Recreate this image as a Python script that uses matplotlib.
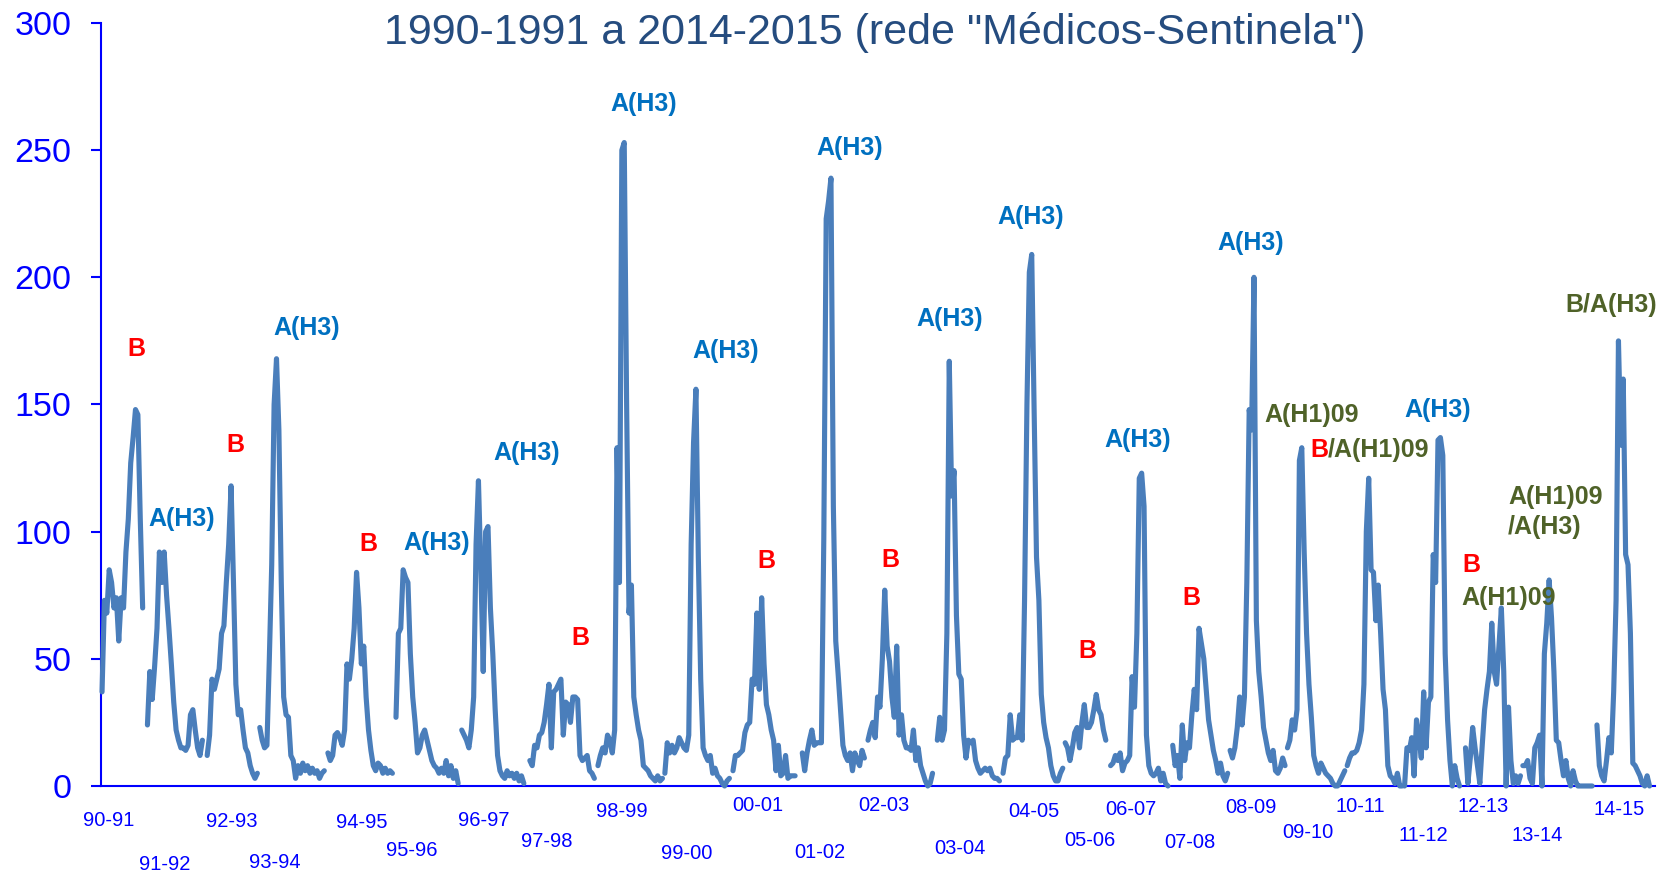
import matplotlib
matplotlib.use('Agg')
import matplotlib.pyplot as plt

plt.rcParams['font.family'] = ['Liberation Sans', 'DejaVu Sans']

# Weekly incidence per season, one value every 2 weeks
s9091 = [37, 73, 68, 85, 80, 70, 74, 57, 74, 70, 92, 105, 127, 137, 148, 146, 105, 70]
s9192 = [24, 45, 34, 47, 62, 92, 80, 92, 75, 62, 48, 33, 22, 18, 15, 15, 14, 16, 28, 30, 22, 15, 12, 18]
s9293 = [12, 20, 42, 38, 42, 46, 60, 63, 80, 95, 118, 80, 40, 28, 30, 22, 15, 13, 8, 5, 3, 5]
s9394 = [23, 18, 15, 16, 50, 87, 150, 168, 140, 80, 35, 28, 27, 12, 10, 3, 8, 5, 9, 6, 8, 5, 7, 5, 6, 3, 5, 6]
s9495 = [13, 10, 12, 20, 21, 19, 16, 22, 48, 42, 50, 62, 84, 70, 48, 55, 35, 22, 14, 8, 6, 9, 8, 5, 7, 5, 6, 5]
s9596 = [27, 60, 62, 85, 82, 80, 52, 35, 25, 13, 15, 20, 22, 18, 14, 10, 8, 7, 5, 7, 5, 10, 4, 8, 3, 6, 1]
s9697 = [22, 20, 18, 15, 22, 35, 95, 120, 85, 45, 100, 102, 70, 52, 30, 12, 6, 4, 3, 6, 4, 5, 3, 5, 2, 4, 1]
s9798 = [10, 8, 16, 15, 20, 21, 25, 32, 40, 15, 37, 38, 40, 42, 20, 33, 32, 25, 35, 35, 34, 12, 10, 11, 12, 6, 5, 3]
s9899 = [8, 12, 15, 13, 20, 18, 13, 22, 133, 80, 250, 253, 150, 68, 79, 35, 28, 22, 18, 8, 7, 6, 4, 3, 2, 4, 2, 3]
s9900 = [5, 17, 13, 16, 13, 15, 19, 17, 15, 14, 20, 95, 135, 156, 90, 42, 15, 12, 10, 12, 5, 7, 4, 3, 1, 0, 2, 3]
s0001 = [6, 12, 12, 13, 14, 21, 24, 25, 42, 40, 68, 38, 74, 48, 32, 28, 22, 18, 6, 16, 4, 5, 12, 3, 4, 4, 4]
s0102 = [13, 6, 13, 18, 22, 16, 17, 17, 17, 97, 223, 230, 239, 110, 57, 44, 30, 16, 12, 10, 13, 6, 13, 10, 8, 14, 11]
s0203 = [18, 22, 25, 19, 35, 31, 50, 77, 55, 49, 35, 27, 55, 20, 28, 18, 15, 15, 14, 22, 10, 15, 8, 5, 2, 0, 1, 5]
s0304 = [18, 27, 18, 22, 60, 167, 114, 124, 67, 44, 42, 20, 11, 18, 17, 18, 10, 7, 5, 6, 7, 6, 7, 4, 3, 3, 2]
s0405 = [5, 11, 12, 28, 18, 19, 19, 28, 18, 73, 150, 202, 209, 148, 90, 73, 36, 25, 19, 15, 8, 4, 2, 2, 5, 7]
s0506 = [17, 15, 10, 15, 21, 23, 15, 25, 32, 23, 23, 25, 30, 36, 30, 28, 22, 18]
s0607 = [8, 9, 12, 10, 13, 6, 9, 10, 12, 43, 31, 60, 121, 123, 110, 20, 8, 5, 4, 5, 7, 2, 5, 1, 0]
s0708 = [16, 8, 12, 3, 24, 10, 17, 15, 28, 38, 30, 62, 56, 50, 38, 26, 20, 14, 10, 5, 9, 4, 2, 5]
s0809 = [14, 11, 15, 23, 35, 24, 35, 80, 148, 140, 200, 65, 45, 35, 23, 18, 13, 10, 14, 6, 5, 7, 11, 8]
s0910 = [15, 18, 26, 22, 30, 128, 133, 92, 60, 40, 27, 12, 8, 5, 9, 7, 5, 4, 3, 1, 0, 0, 2, 4, 6]
s1011 = [8, 11, 13, 13, 14, 17, 22, 40, 100, 121, 85, 84, 65, 79, 60, 38, 30, 8, 4, 3, 1, 5, 0, 0]
s1112 = [0, 15, 14, 19, 4, 26, 20, 11, 37, 15, 33, 35, 91, 80, 136, 137, 130, 52, 26, 10, 0, 8, 3, 0]
s1213 = [15, 1, 11, 23, 15, 8, 1, 16, 30, 38, 45, 64, 45, 40, 55, 70, 45, 0, 31, 10, 1, 4, 1, 4]
s1314 = [8, 8, 10, 3, 1, 15, 17, 20, 0, 52, 64, 81, 66, 45, 18, 17, 10, 4, 10, 3, 0, 6, 2, 0, 0, 0, 0, 0, 0, 0]
s1415 = [24, 8, 4, 2, 10, 19, 13, 37, 73, 175, 134, 160, 91, 87, 60, 9, 8, 6, 4, 1, 0, 4, 0]

seasons = [s9091, s9192, s9293, s9394, s9495, s9596, s9697, s9798, s9899, s9900,
           s0001, s0102, s0203, s0304, s0405, s0506, s0607, s0708, s0809, s0910,
           s1011, s1112, s1213, s1314, s1415]
# first week of each season (weeks since start of the series)
season_start = [0, 38, 88, 132, 189, 246, 301, 358, 415, 471, 528, 586, 641, 699, 754,
                806, 844, 896, 944, 992, 1042, 1090, 1141, 1189, 1251]
STEP = 2

season_labels = ['90-91', '91-92', '92-93', '93-94', '94-95', '95-96', '96-97', '97-98',
                 '98-99', '99-00', '00-01', '01-02', '02-03', '03-04', '04-05', '05-06',
                 '06-07', '07-08', '08-09', '09-10', '10-11', '11-12', '12-13', '13-14', '14-15']

# virus type notes: text, colour key
notes = ['B', 'A(H3)', 'B', 'A(H3)', 'B', 'A(H3)', 'A(H3)', 'B', 'A(H3)', 'A(H3)',
         'B', 'A(H3)', 'B', 'A(H3)', 'A(H3)', 'B', 'A(H3)', 'B', 'A(H3)', 'A(H1)09',
         'A(H3)', 'B', 'A(H1)09', 'A(H1)09\n/A(H3)', 'B/A(H3)']
note_kind = ['B', 'H3', 'B', 'H3', 'B', 'H3', 'H3', 'B', 'H3', 'H3',
             'B', 'H3', 'B', 'H3', 'H3', 'B', 'H3', 'B', 'H3', 'H1',
             'H3', 'B', 'H1', 'H1', 'H1']

# layout (week, value) for the notes and season labels
note_pos = [(28.5, 172), (66.9, 105), (111.3, 134), (171.5, 180), (222.6, 95), (280.3, 95.5),
            (355.6, 131), (400, 58), (453.6, 268), (522.2, 171), (555.6, 88.4), (626, 251),
            (659.4, 89), (709.6, 183.6), (777.4, 223.7), (824.3, 53), (867, 136), (911.3, 74),
            (961.5, 213.4), (1012.6, 146), (1118, 148), (1145.6, 87), (1177.4, 74),
            (1176.6, 107.7), (1262.8, 189)]
label_pos = [(5.9, -13.4), (52.7, -31.0), (108.8, -14.1), (144.8, -30.2), (217.6, -14.5),
             (259.4, -25.5), (319.7, -13.4), (372.4, -22.0), (435.1, -10.2), (489.5, -26.7),
             (549.0, -7.5), (600.8, -26.0), (654.4, -7.5), (718.0, -24.4), (779.9, -10.2),
             (826.8, -21.6), (861.1, -9.4), (910.5, -22.4), (961.5, -8.6), (1009.2, -18.1),
             (1052.7, -7.9), (1105.4, -19.3), (1155.6, -7.9), (1201.3, -19.3), (1269.5, -9.4)]

colors = {'B': '#FF0000', 'H3': '#0070C0', 'H1': '#4F6228'}
line_color = '#4A7EBB'
axis_blue = '#0000FF'

fig = plt.figure(figsize=(16.62, 8.74), dpi=100)
ax = fig.add_axes([0.0606, 0.1007, 0.9352, 0.8730])

for start, vals in zip(season_start, seasons):
    weeks = [start + STEP * i for i in range(len(vals))]
    ax.plot(weeks, vals, color=line_color, lw=3.7, solid_joinstyle='round',
            solid_capstyle='round', clip_on=False, zorder=3)

ax.set_xlim(-1.1, 1299.6)
ax.set_ylim(0, 300)
ax.set_yticks(range(0, 301, 50))
ax.set_xticks([])
for side in ['top', 'right']:
    ax.spines[side].set_visible(False)
for side in ['left', 'bottom']:
    ax.spines[side].set_color(axis_blue)
    ax.spines[side].set_linewidth(1.5)
    ax.spines[side].set_zorder(1)
ax.tick_params(axis='y', colors=axis_blue, labelsize=24.5, length=7, width=1.5, pad=14)

for txt, (x, y) in zip(season_labels, label_pos):
    ax.text(x, y, txt, color=axis_blue, fontsize=14.5, ha='center', va='center', clip_on=False)

for txt, kind, (x, y) in zip(notes, note_kind, note_pos):
    if '\n' in txt:
        ax.text(x, y, txt, color=colors[kind], fontsize=18, fontweight='bold',
                ha='left', va='center', linespacing=1.3)
    else:
        ax.text(x, y, txt, color=colors[kind], fontsize=18, fontweight='bold',
                ha='center', va='center')

# mixed colour note for 2010-11
tb = ax.text(1010.9, 132, 'B', color=colors['B'], fontsize=18, fontweight='bold',
             ha='left', va='center')
ax.annotate('/A(H1)09', xy=(1, 0.5), xycoords=tb, color=colors['H1'], fontsize=18,
            fontweight='bold', ha='left', va='center')

fig.text(0.5265, 0.963, '1990-1991 a 2014-2015 (rede "Médicos-Sentinela")', color='#254C7F',
         fontsize=31, ha='center', va='center')

fig.savefig('out.png', dpi=100)
